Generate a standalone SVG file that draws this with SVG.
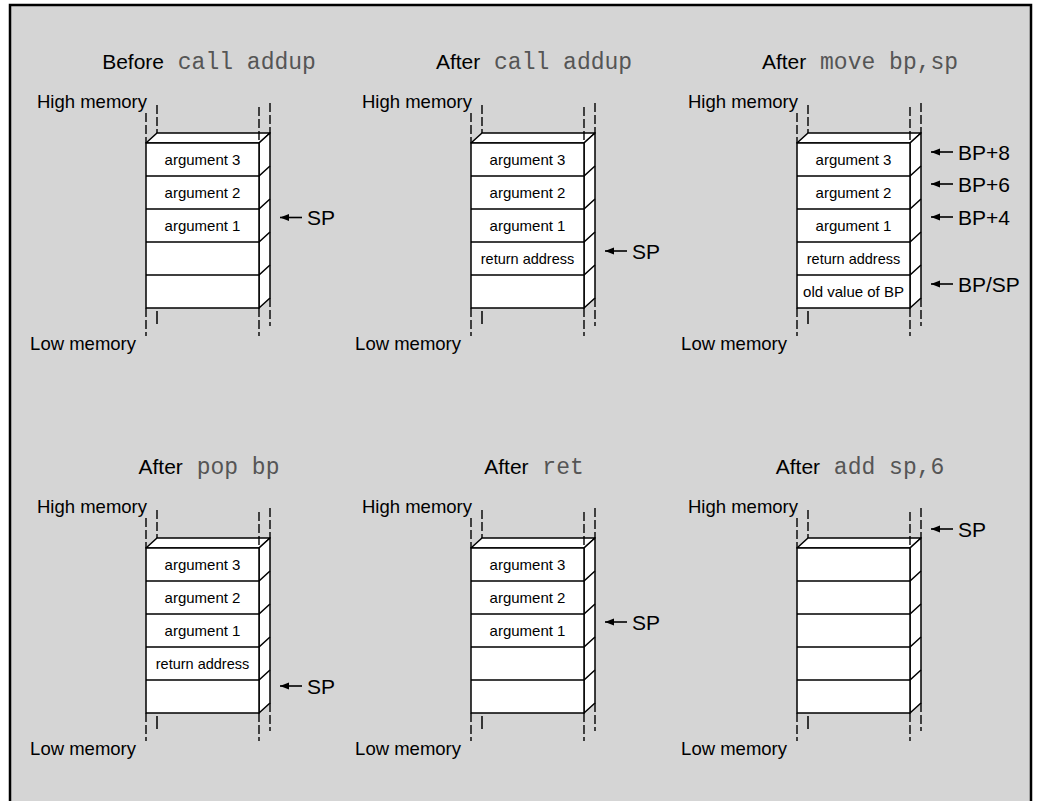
<svg xmlns="http://www.w3.org/2000/svg" xmlns:xlink="http://www.w3.org/1999/xlink" width="1038" height="801" viewBox="0 0 1038 801">
<style>
.t{font-family:"Liberation Sans",Arial,sans-serif;font-size:21px;fill:#000}
.m{font-family:"Liberation Mono","Courier New",monospace;font-size:23px;fill:#555}
.hm{font-family:"Liberation Sans",Arial,sans-serif;font-size:18.5px;fill:#000}
.c{font-family:"Liberation Sans",Arial,sans-serif;font-size:15px;fill:#000;text-anchor:middle}
.p{font-family:"Liberation Sans",Arial,sans-serif;font-size:21px;fill:#000}
.box{fill:#fff;stroke:#000;stroke-width:1.5;stroke-linejoin:round}
.ln{fill:none;stroke:#000;stroke-width:1.5}
.ds{fill:none;stroke:#000;stroke-width:1.4;stroke-dasharray:9 3}
.ar{fill:none;stroke:#000;stroke-width:1.6}
</style>
<defs>
<marker id="ah" markerUnits="userSpaceOnUse" markerWidth="10" markerHeight="8" refX="9" refY="3.5" orient="auto">
<path d="M0,0 L9,3.5 L0,7 z" fill="#000"/>
</marker>
<g id="frame">
<line class="ds" x1="0" y1="-30" x2="0" y2="0"/>
<line class="ds" x1="11" y1="-38" x2="11" y2="-10"/>
<line class="ds" x1="124" y1="-40" x2="124" y2="-10"/>
<line class="ds" x1="0" y1="165" x2="0" y2="193"/>
<line class="ln" x1="11" y1="168" x2="11" y2="181"/>
<line class="ds" x1="113" y1="165" x2="113" y2="193"/>
<line class="ds" x1="124" y1="155" x2="124" y2="183"/>
<polygon class="box" points="0,0 11,-10 124,-10 113,0"/>
<polygon class="box" points="113,0 124,-10 124,155 113,165"/>
<rect class="box" x="0" y="0" width="113" height="165"/>
<path class="ln" d="M0,33 H113 L124,23 M0,66 H113 L124,56 M0,99 H113 L124,89 M0,132 H113 L124,122"/>
<line class="ds" x1="113" y1="-36" x2="113" y2="0"/>
</g>
</defs>
<rect x="0" y="0" width="1038" height="801" fill="#fff"/>
<rect x="10" y="5" width="1021" height="830" fill="#d5d5d5" stroke="#000" stroke-width="2.5"/>

<g id="stack1">
<text class="t" x="209" y="69" text-anchor="middle">Before<tspan class="m"> call addup</tspan></text>
<text class="hm" x="147" y="108" text-anchor="end">High memory</text>
<text class="hm" x="136" y="350" text-anchor="end">Low memory</text>
<use xlink:href="#frame" transform="translate(146,143)"/>
<g transform="translate(146,143)">
<text class="c" x="56.5" y="22">argument 3</text>
<text class="c" x="56.5" y="55">argument 2</text>
<text class="c" x="56.5" y="88">argument 1</text>
</g>
</g>

<g id="stack2">
<text class="t" x="534" y="69" text-anchor="middle">After<tspan class="m"> call addup</tspan></text>
<text class="hm" x="472" y="108" text-anchor="end">High memory</text>
<text class="hm" x="461" y="350" text-anchor="end">Low memory</text>
<use xlink:href="#frame" transform="translate(471,143)"/>
<g transform="translate(471,143)">
<text class="c" x="56.5" y="22">argument 3</text>
<text class="c" x="56.5" y="55">argument 2</text>
<text class="c" x="56.5" y="88">argument 1</text>
<text class="c" x="56.5" y="121" style="font-size:14.5px">return address</text>
</g>
</g>

<g id="stack3">
<text class="t" x="860" y="69" text-anchor="middle">After<tspan class="m"> move bp,sp</tspan></text>
<text class="hm" x="798" y="108" text-anchor="end">High memory</text>
<text class="hm" x="787" y="350" text-anchor="end">Low memory</text>
<use xlink:href="#frame" transform="translate(797,143)"/>
<g transform="translate(797,143)">
<text class="c" x="56.5" y="22">argument 3</text>
<text class="c" x="56.5" y="55">argument 2</text>
<text class="c" x="56.5" y="88">argument 1</text>
<text class="c" x="56.5" y="121" style="font-size:14.5px">return address</text>
<text class="c" x="56.5" y="154">old value of BP</text>
</g>
</g>

<g id="stack4">
<text class="t" x="209" y="474" text-anchor="middle">After<tspan class="m"> pop bp</tspan></text>
<text class="hm" x="147" y="513" text-anchor="end">High memory</text>
<text class="hm" x="136" y="755" text-anchor="end">Low memory</text>
<use xlink:href="#frame" transform="translate(146,548)"/>
<g transform="translate(146,548)">
<text class="c" x="56.5" y="22">argument 3</text>
<text class="c" x="56.5" y="55">argument 2</text>
<text class="c" x="56.5" y="88">argument 1</text>
<text class="c" x="56.5" y="121" style="font-size:14.5px">return address</text>
</g>
</g>

<g id="stack5">
<text class="t" x="534" y="474" text-anchor="middle">After<tspan class="m"> ret</tspan></text>
<text class="hm" x="472" y="513" text-anchor="end">High memory</text>
<text class="hm" x="461" y="755" text-anchor="end">Low memory</text>
<use xlink:href="#frame" transform="translate(471,548)"/>
<g transform="translate(471,548)">
<text class="c" x="56.5" y="22">argument 3</text>
<text class="c" x="56.5" y="55">argument 2</text>
<text class="c" x="56.5" y="88">argument 1</text>
</g>
</g>

<g id="stack6">
<text class="t" x="860" y="474" text-anchor="middle">After<tspan class="m"> add sp,6</tspan></text>
<text class="hm" x="798" y="513" text-anchor="end">High memory</text>
<text class="hm" x="787" y="755" text-anchor="end">Low memory</text>
<use xlink:href="#frame" transform="translate(797,548)"/>
</g>

<g id="connectors">
<line class="ar" x1="302" y1="217.5" x2="280" y2="217.5" marker-end="url(#ah)"/>
<text class="p" x="307" y="225">SP</text>
<line class="ar" x1="627" y1="251" x2="605" y2="251" marker-end="url(#ah)"/>
<text class="p" x="632" y="258.5">SP</text>
<line class="ar" x1="953" y1="152" x2="931" y2="152" marker-end="url(#ah)"/>
<text class="p" x="958" y="159.5">BP+8</text>
<line class="ar" x1="953" y1="184" x2="931" y2="184" marker-end="url(#ah)"/>
<text class="p" x="958" y="191.5">BP+6</text>
<line class="ar" x1="953" y1="217" x2="931" y2="217" marker-end="url(#ah)"/>
<text class="p" x="958" y="224.5">BP+4</text>
<line class="ar" x1="953" y1="284" x2="931" y2="284" marker-end="url(#ah)"/>
<text class="p" x="958" y="291.5">BP/SP</text>
<line class="ar" x1="302" y1="686" x2="280" y2="686" marker-end="url(#ah)"/>
<text class="p" x="307" y="693.5">SP</text>
<line class="ar" x1="627" y1="622" x2="605" y2="622" marker-end="url(#ah)"/>
<text class="p" x="632" y="629.5">SP</text>
<line class="ar" x1="953" y1="529" x2="931" y2="529" marker-end="url(#ah)"/>
<text class="p" x="958" y="536.5">SP</text>
</g>
</svg>
